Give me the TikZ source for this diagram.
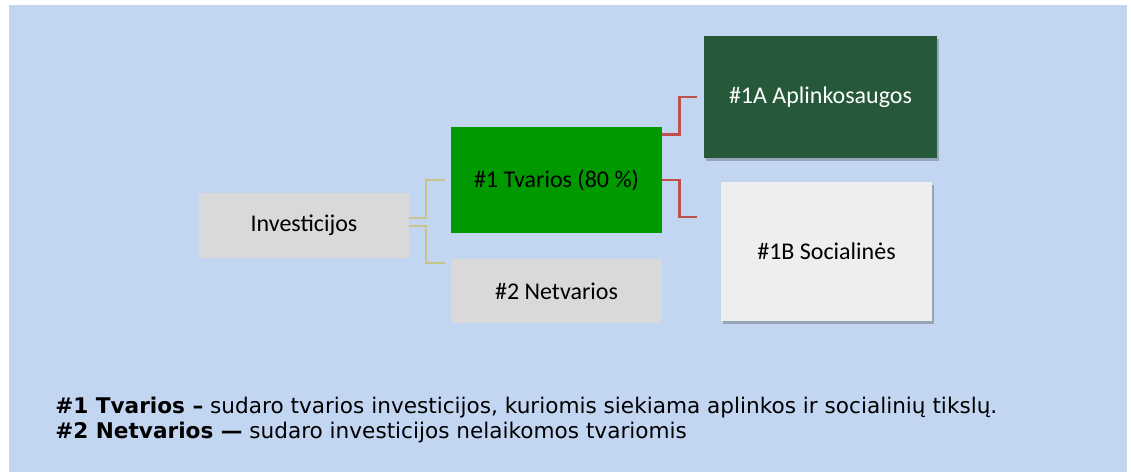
\documentclass[tikz,border=0pt]{standalone}
\usepackage{fontspec}
\setmainfont{Carlito}
\newfontfamily\verdanafont{DejaVu Sans}
\usetikzlibrary{shadows}

\definecolor{bgblue}{RGB}{194,214,242}
\definecolor{boxgray}{RGB}{217,217,217}
\definecolor{tvgreen}{RGB}{0,153,0}
\definecolor{darkgreen}{RGB}{38,89,57}
\definecolor{lightbox}{RGB}{238,238,238}
\definecolor{oliveline}{RGB}{201,196,138}
\definecolor{redline}{RGB}{192,80,77}

\tikzset{
  box/.style={inner sep=0pt, align=center, font=\fontsize{18}{21}\selectfont},
  shadowbox/.style={box, drop shadow={shadow xshift=1.2pt, shadow yshift=-2pt, opacity=0.35, fill=black!70}},
  link/.style={draw=oliveline, line width=1.3pt},
  redlink/.style={draw=redline, line width=1.9pt}
}

\begin{document}
\begin{tikzpicture}[x=0.75pt,y=0.75pt,yscale=-1,xscale=1]
\useasboundingbox (0,0) rectangle (1131,474);

%Shape: Rectangle (background)
\fill[bgblue] (9,5) rectangle (1127,472);

% Boxes
\node[box, fill=boxgray, minimum width=157.5pt, minimum height=48.75pt] (inv) at (304,225.5) {Investicijos};
\node[box, fill=tvgreen, minimum width=158.25pt, minimum height=79.5pt] (tv) at (556.5,180) {\#1 Tvarios (80 \%)};
\node[box, fill=boxgray, minimum width=158.25pt, minimum height=48pt] (ntv) at (556.5,291) {\#2 Netvarios};
\node[shadowbox, fill=darkgreen, text=white, minimum width=174.75pt, minimum height=91.5pt] (apl) at (820.5,97) {\#1A Aplinkosaugos};
\node[shadowbox, fill=lightbox, minimum width=158.25pt, minimum height=104.25pt] (soc) at (826.5,251.5) {\#1B Socialinės};

% Connectors (yshift is flipped by yscale=-1)
\coordinate (tvin) at ([xshift=-4.5pt]tv.west);
\coordinate (ntvin) at ([xshift=-4.5pt,yshift=3pt]ntv.north west);
\draw[link] ([yshift=-5.6pt]inv.east) -- ++(17,0) |- (tvin);
\draw[link] ([yshift=0.2pt]inv.east) -- ++(17,0) |- (ntvin);

\coordinate (aplin) at ([xshift=-5.25pt]apl.west);
\coordinate (socin) at ([xshift=-18pt,yshift=-26pt]soc.west);
\draw[redlink] ([yshift=6pt]tv.north east) -- ++(17,0) |- (aplin);
\draw[redlink] (tv.east) -- ++(17,0) |- (socin);

% Text Node
\node[anchor=north west, inner sep=0pt, align=left, font=\verdanafont\fontsize{16.2}{18.75}\selectfont] (note) at (55,397)
  {\textbf{\#1 Tvarios –} sudaro tvarios investicijos, kuriomis siekiama aplinkos ir socialinių tikslų.\\
   \textbf{\#2 Netvarios —} sudaro investicijos nelaikomos tvariomis};

\end{tikzpicture}
\end{document}
